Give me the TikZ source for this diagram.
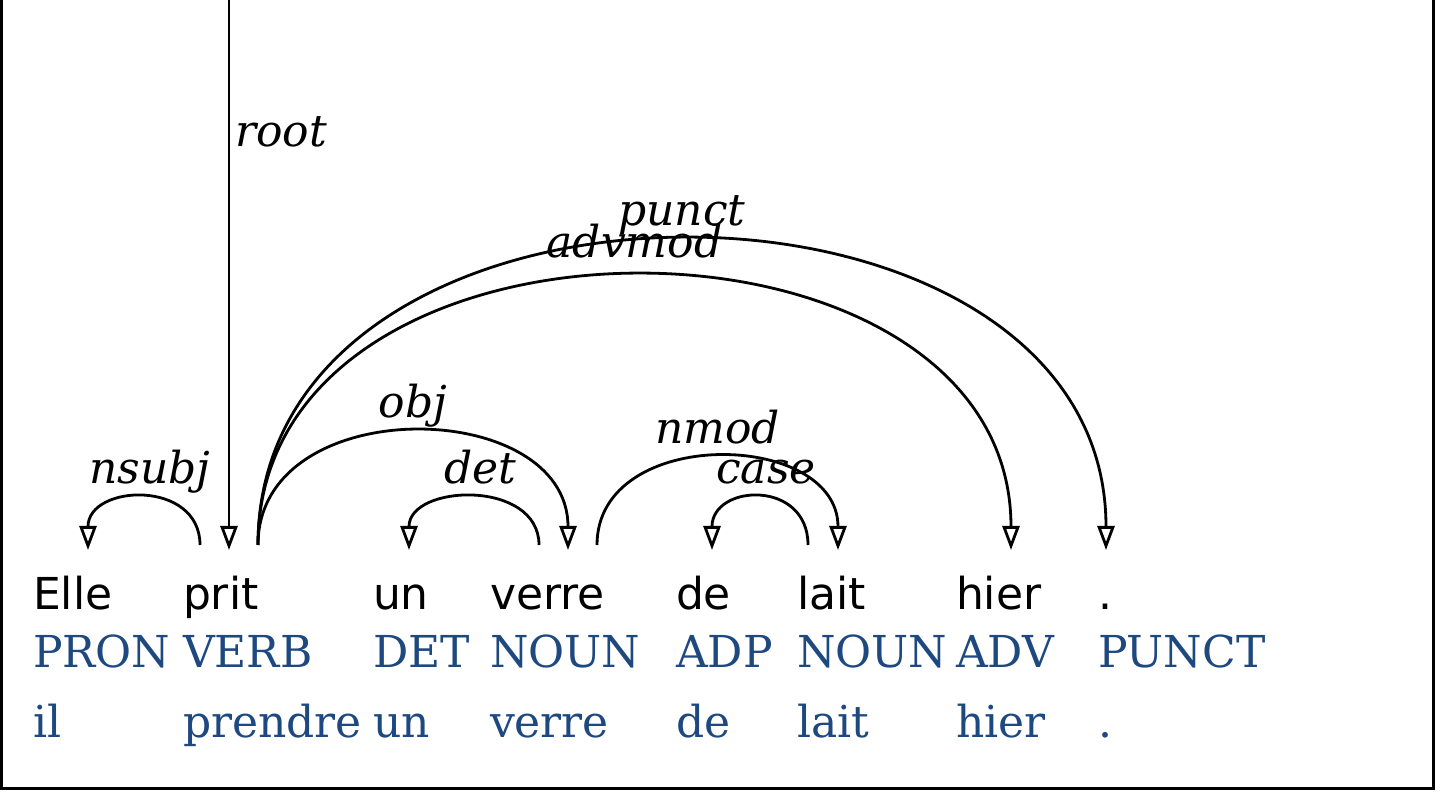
\documentclass[tikz,border=0pt]{standalone}
\usepackage{fontspec}
\setmainfont{DejaVu Serif}
\setsansfont{DejaVu Sans}
\usetikzlibrary{arrows.meta}

\begin{document}
\begin{tikzpicture}[x=1pt,y=1pt,
  form/.style={anchor=base west,inner sep=0pt,outer sep=0pt,text=drawColor,font=\sffamily\fontsize{22}{26}\selectfont},
  tag/.style={anchor=base west,inner sep=0pt,outer sep=0pt,text=tagColor,font=\rmfamily\fontsize{22}{26}\selectfont},
  deprel/.style={anchor=base,inner sep=0pt,outer sep=0pt,yshift=7pt,text=drawColor,font=\rmfamily\itshape\fontsize{22}{26}\selectfont},
  deparc/.style={draw=drawColor,line width=1.4pt,-{Triangle[open,length=12pt,width=8.5pt]}}]
\definecolor{fillColor}{RGB}{255,255,255}
\definecolor{drawColor}{RGB}{0,0,0}
\definecolor{tagColor}{RGB}{30,72,128}
\path[use as bounding box,fill=fillColor] (0,0) rectangle (720,396);

% frame
\path[draw=drawColor,line width=1.5pt] (0.9,396) -- (0.9,1.5) -- (716.5,1.5) -- (716.5,396);

% word forms
\node[form] (Elle)  at ( 16.5,91) {Elle};
\node[form] (prit)  at ( 91.5,91) {prit};
\node[form] (un)    at (186.5,91) {un};
\node[form] (verre) at (245.0,91) {verre};
\node[form] (de)    at (338.0,91) {de};
\node[form] (lait)  at (398.5,91) {lait};
\node[form] (hier)  at (478.0,91) {hier};
\node[form] (dot)   at (549.0,91) {.};

% upos
\node[tag] (Elle-pos)  at ( 16.5,62) {PRON};
\node[tag] (prit-pos)  at ( 91.5,62) {VERB};
\node[tag] (un-pos)    at (186.5,62) {DET};
\node[tag] (verre-pos) at (245.0,62) {NOUN};
\node[tag] (de-pos)    at (338.0,62) {ADP};
\node[tag] (lait-pos)  at (398.5,62) {NOUN};
\node[tag] (hier-pos)  at (478.0,62) {ADV};
\node[tag] (dot-pos)   at (549.0,62) {PUNCT};

% lemmas
\node[tag] (Elle-lem)  at ( 16.5,27) {il};
\node[tag] (prit-lem)  at ( 91.5,27) {prendre};
\node[tag] (un-lem)    at (186.5,27) {un};
\node[tag] (verre-lem) at (245.0,27) {verre};
\node[tag] (de-lem)    at (338.0,27) {de};
\node[tag] (lait-lem)  at (398.5,27) {lait};
\node[tag] (hier-lem)  at (478.0,27) {hier};
\node[tag] (dot-lem)   at (549.0,27) {.};

% arc feet
\coordinate (top)         at (114.5,396);
\coordinate (Elle-in)     at ( 44.0,121);
\coordinate (prit-nsubj)  at (100.0,123.5);
\coordinate (prit-in)     at (114.5,121);
\coordinate (prit-out)    at (129.0,123.5);
\coordinate (un-in)       at (204.5,121);
\coordinate (verre-det)   at (269.5,123.5);
\coordinate (verre-in)    at (284.0,121);
\coordinate (verre-out)   at (298.5,123.5);
\coordinate (de-in)       at (356.0,121);
\coordinate (lait-case)   at (404.0,123.5);
\coordinate (lait-in)     at (419.0,121);
\coordinate (hier-in)     at (505.5,121);
\coordinate (dot-in)      at (553.0,121);

% dependencies
\path[deparc] (top) -- (prit-in);
\node[anchor=base west,inner sep=0pt,outer sep=0pt,text=drawColor,font=\rmfamily\itshape\fontsize{22}{26}\selectfont] (root) at (117.5,322.5) {root};

\path[deparc] (prit-nsubj) .. controls +(0,33) and +(0,33) .. (Elle-in) node[deprel,pos=0.5,xshift=3pt] (nsubj) {nsubj};
\path[deparc] (prit-out) .. controls +(0,77) and +(0,77) .. (verre-in) node[deprel,pos=0.5] (obj) {obj};
\path[deparc] (verre-det) .. controls +(0,33) and +(0,33) .. (un-in) node[deprel,pos=0.5,xshift=3pt] (det) {det};
\path[deparc] (verre-out) .. controls +(0,60) and +(0,60) .. (lait-in) node[deprel,pos=0.5] (nmod) {nmod};
\path[deparc] (lait-case) .. controls +(0,33) and +(0,33) .. (de-in) node[deprel,pos=0.5,xshift=3pt] (case) {case};
\path[deparc] (prit-out) .. controls +(0,181) and +(0,181) .. (hier-in) node[deprel,pos=0.5,yshift=2pt] (advmod) {advmod};
\path[deparc] (prit-out) .. controls +(0,205) and +(0,205) .. (dot-in) node[deprel,pos=0.5] (punct) {punct};
\end{tikzpicture}
\end{document}
